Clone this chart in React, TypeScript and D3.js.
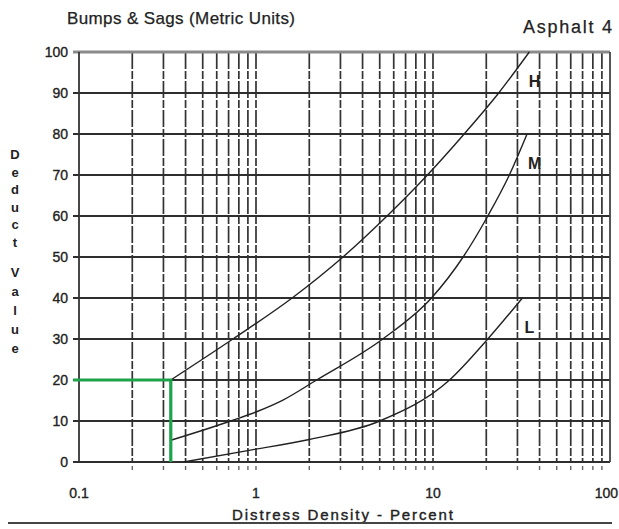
import React from "react";
import * as d3 from "d3";

// Deduct value curves for bumps & sags (asphalt), by severity level
const highDensity = [0.33, 0.74, 1.6, 3.1, 5.5, 9.3, 15, 23.5, 35];
const highDeduct = [20, 30, 40, 50, 60, 70, 80, 90, 100];

const mediumDensity = [0.33, 0.72, 1.0, 1.42, 2.2, 5.2, 9.8, 14.8, 20.4, 27, 34];
const mediumDeduct = [5.3, 10, 12.2, 15.1, 20, 30, 40, 50, 60, 70, 80];

const lowDensity = [0.39, 0.93, 2.0, 5.0, 12.4, 20.4, 32];
const lowDeduct = [0, 2.9, 5.5, 10, 20, 30, 40];

// Worked example: density 0.33 % read up to a deduct value of 20
const exampleDensity = 0.33;
const exampleDeduct = 20;

const yTicks = [0, 10, 20, 30, 40, 50, 60, 70, 80, 90, 100];
const xTickLabels = [0.1, 1, 10, 100];
const xTickText = ["0.1", "1", "10", "100"];

const W = 619;
const H = 529;
const FONT = "'Liberation Sans', Arial, Helvetica, sans-serif";

export default function App() {
  const x = d3.scaleLog().domain([0.1, 100]).range([79, 610]);
  const y = d3.scaleLinear().domain([0, 100]).range([462, 52]);

  // vertical log grid: 0.2..0.9, 1..9, 10..90
  const gridX: number[] = [];
  [0.1, 1, 10].forEach((dec) => {
    for (let k = 1; k <= 9; k++) {
      const v = dec * k;
      if (v > 0.1) gridX.push(v);
    }
  });

  const line = d3
    .line<[number, number]>()
    .x((d) => x(d[0]))
    .y((d) => y(d[1]))
    .curve(d3.curveMonotoneX);

  const curves = [
    { key: "H", d: highDensity.map((v, i) => [v, highDeduct[i]] as [number, number]) },
    { key: "M", d: mediumDensity.map((v, i) => [v, mediumDeduct[i]] as [number, number]) },
    { key: "L", d: lowDensity.map((v, i) => [v, lowDeduct[i]] as [number, number]) },
  ];

  const curveLabels = [
    { t: "H", v: 93, dens: 37.5 },
    { t: "M", v: 73, dens: 37.5 },
    { t: "L", v: 33, dens: 35 },
  ];

  const yLabelTop = "Deduct".split("");
  const yLabelBottom = "Value".split("");

  return (
    <svg
      width={W}
      height={H}
      style={{ position: "absolute", left: 0, top: 0, background: "#fff" }}
      fontFamily={FONT}
    >
      <rect width={W} height={H} fill="#fff" />

      {/* title */}
      <text x={67} y={24} fontSize={17} fill="#222" stroke="#222" strokeWidth={0.25} textLength={228} lengthAdjust="spacing">
        Bumps &amp; Sags (Metric Units)
      </text>
      <text x={523} y={33} fontSize={18} fill="#222" stroke="#222" strokeWidth={0.25} textLength={89} lengthAdjust="spacing">
        Asphalt 4
      </text>

      {/* vertical grid */}
      {gridX.map((v, i) => (
        <g key={"gx" + i}>
          <line
            x1={x(v)}
            x2={x(v)}
            y1={y(100)}
            y2={y(0)}
            stroke="#333"
            strokeWidth={1.7}
            strokeDasharray="17 2 8 2"
          />
          <line x1={x(v)} x2={x(v)} y1={y(0) + 4} y2={y(0) + 8} stroke="#666" strokeWidth={1.4} />
        </g>
      ))}

      {/* horizontal grid */}
      {yTicks.map((t) => (
        <g key={"gy" + t}>
          <line
            x1={x(0.1) - 6}
            x2={x(100)}
            y1={y(t)}
            y2={y(t)}
            stroke={t === 100 ? "#8a8a8a" : "#2e2e2e"}
            strokeWidth={t === 100 ? 3 : 2}
          />
          <text
            x={68}
            y={y(t) + 5}
            fontSize={14}
            fill="#222"
            textAnchor="end"
            stroke="#222"
            strokeWidth={0.35}
          >
            {t}
          </text>
        </g>
      ))}

      {/* frame sides */}
      <line x1={x(0.1)} x2={x(0.1)} y1={y(100)} y2={y(0)} stroke="#333" strokeWidth={1.8} />
      <line x1={x(100)} x2={x(100)} y1={y(100)} y2={y(0)} stroke="#444" strokeWidth={1.8} />

      {/* severity curves */}
      {curves.map((c) => (
        <path key={c.key} d={line(c.d) ?? ""} fill="none" stroke="#222" strokeWidth={1.4} />
      ))}
      {curveLabels.map((l) => (
        <text
          key={l.t}
          x={x(l.dens)}
          y={y(l.v) + 6}
          fontSize={16}
          fontWeight="bold"
          fill="#222"
          textAnchor="middle"
        >
          {l.t}
        </text>
      ))}

      {/* example reading */}
      <polyline
        points={`${x(0.1) - 6},${y(exampleDeduct)} ${x(exampleDensity)},${y(exampleDeduct)} ${x(
          exampleDensity
        )},${y(0)}`}
        fill="none"
        stroke="#1ca34c"
        strokeWidth={3.2}
      />

      {/* x tick labels */}
      {xTickLabels.map((v, i) => (
        <text
          key={"xl" + v}
          x={i === xTickLabels.length - 1 ? 618 : x(v)}
          y={498}
          fontSize={14}
          fill="#222"
          textAnchor={i === xTickLabels.length - 1 ? "end" : "middle"}
          stroke="#222"
          strokeWidth={0.35}
        >
          {xTickText[i]}
        </text>
      ))}

      {/* axis titles */}
      <text
        x={232}
        y={520}
        fontSize={15}
        fill="#222"
        stroke="#222"
        strokeWidth={0.4}
        textLength={221}
        lengthAdjust="spacing"
      >
        Distress Density - Percent
      </text>
      {yLabelTop.map((ch, i) => (
        <text
          key={"yt" + i}
          x={15}
          y={159 + i * 17.5}
          fontSize={13}
          fontWeight="bold"
          fill="#222"
          textAnchor="middle"
        >
          {ch}
        </text>
      ))}
      {yLabelBottom.map((ch, i) => (
        <text
          key={"yb" + i}
          x={15}
          y={277 + i * 19}
          fontSize={13}
          fontWeight="bold"
          fill="#222"
          textAnchor="middle"
        >
          {ch}
        </text>
      ))}

      {/* bottom rule */}
      <line x1={8} x2={612} y1={523} y2={523} stroke="#444" strokeWidth={2} />
    </svg>
  );
}
